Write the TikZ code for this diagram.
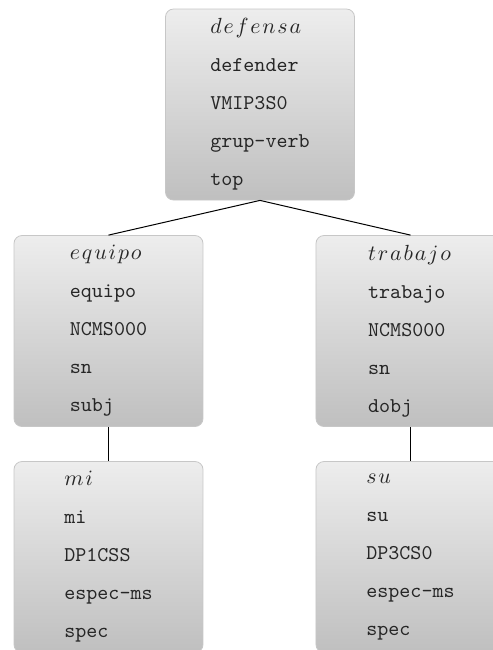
\documentclass[tikz,border=0pt]{standalone}
\usepackage{fontspec}
% header word: math italic, slightly spaced letters
\def\hdloop#1{\ifx#1\relax\else#1\mkern1.5mu\expandafter\hdloop\fi}
\newcommand{\hd}[1]{$\hdloop#1\relax$}
\tikzset{
	wordbox/.style={draw=black!22, rounded corners=4pt, top color=black!7, bottom color=black!25,
		minimum width=94.5pt, minimum height=95.5pt, inner sep=0pt, align=left,
		text=black!85, font=\ttfamily\fontsize{10.5}{19}\selectfont},
	treeline/.style={black, line width=0.5pt}
}
\begin{document}
\begin{tikzpicture}[x=0.5pt, y=-0.5pt]
		\useasboundingbox (0, 0) rectangle (493, 650);
		% root
		\node[wordbox] (defensa) at (260, 104.5) {\hd{defensa}\\defender\\VMIP3S0\\grup-verb\\top};
		% dependents
		\node[wordbox] (equipo) at (108.5, 331) {\hd{equipo}\\equipo\\NCMS000\\sn\\subj};
		\node[wordbox] (trabajo) at (410.5, 331) {\hd{trabajo}\\trabajo\\NCMS000\\sn\\dobj};
		\node[wordbox] (mi) at (108.5, 557) {\hd{mi}\\mi\\DP1CSS\\espec-ms\\spec};
		\node[wordbox] (su) at (410.5, 557) {\hd{su}\\su\\DP3CS0\\espec-ms\\spec};
		\foreach \a/\b in {defensa/equipo, defensa/trabajo, equipo/mi, trabajo/su}{
			\draw[treeline] (\a.south) -- (\b.north);
		}
	\end{tikzpicture}
\end{document}
